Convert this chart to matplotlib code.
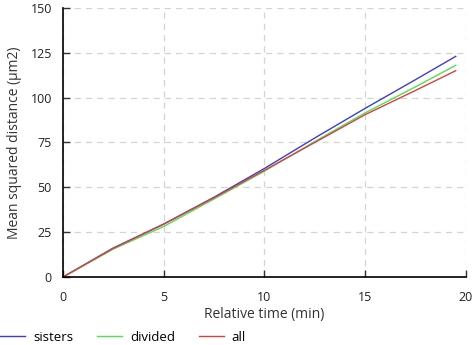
import matplotlib
matplotlib.use("Agg")
import matplotlib.pyplot as plt

plt.rcParams['font.family'] = ['Open Sans', 'DejaVu Sans']

time = [0, 2.5, 5, 7.5, 10, 12.5, 15, 17.5, 19.5]
sisters = [0, 16.2, 29.5, 44.5, 60.5, 77.5, 94, 110, 123]
divided = [0, 15.6, 28.2, 43.5, 59, 75.5, 91.5, 106, 118]
all_ = [0, 16.0, 29.5, 44.2, 59.5, 75, 90.5, 104, 115]

fig = plt.figure(figsize=(4.75, 3.45), dpi=100)
ax = fig.add_axes([0.1326, 0.197, 0.848, 0.780])

l1, = ax.plot(time, sisters, color='#3c3cd2', lw=1.0, label='sisters')
l2, = ax.plot(time, divided, color='#50e050', lw=1.0, label='divided')
l3, = ax.plot(time, all_, color='#d84040', lw=1.0, label='all')

ax.set_xlim(0, 20)
ax.set_ylim(0, 150)
ax.set_xticks([0, 5, 10, 15, 20])
ax.set_yticks([0, 25, 50, 75, 100, 125, 150])
ax.grid(True, color='#d4d4d4', linestyle=(0, (5, 4)), lw=0.9)
for s in ['top', 'right']:
    ax.spines[s].set_visible(False)
for s in ['left', 'bottom']:
    ax.spines[s].set_linewidth(1.2)
ax.tick_params(direction='in', length=5, width=1, labelsize=9, pad=8, colors='#333333', labelcolor='#222222')
ax.tick_params(axis='x', pad=10)
ax.set_xlabel('Relative time (min)', fontsize=10, color='#333333', labelpad=2)
ax.set_ylabel('Mean squared distance (µm2)', fontsize=10, color='#333333', labelpad=6)

fig.legend(handles=[l1, l2, l3], loc='center left', bbox_to_anchor=(0.0, 0.022),
           borderaxespad=0, borderpad=0,
           ncol=3, frameon=False, fontsize=9.5, handlelength=1.9, columnspacing=1.8,
           handletextpad=0.6)

fig.savefig('out.png', dpi=100)
